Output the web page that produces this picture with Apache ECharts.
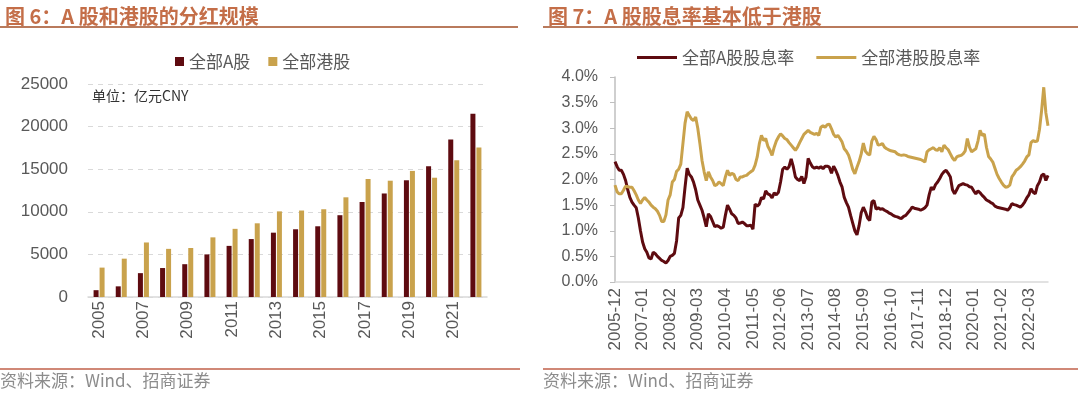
<!DOCTYPE html>
<html>
<head>
<meta charset="utf-8">
<script src="https://cdn.jsdelivr.net/npm/echarts@6/dist/echarts.min.js"></script>
<style>
html,body{margin:0;padding:0;background:#fff;}
#c{width:1080px;height:393px;}
</style>
</head>
<body>
<div id="c"></div>
<script>
// ---------- Figure 6: dividend scale (100 million CNY) ----------
const years = ['2005','2006','2007','2008','2009','2010','2011','2012','2013','2014','2015','2016','2017','2018','2019','2020','2021','2022'];
const divA  = [800,1250,2800,3400,3850,5000,6000,6800,7550,7950,8300,9600,11150,12150,13700,15350,18500,21500];
const divHK = [3450,4500,6400,5650,5750,7000,8000,8650,10050,10150,10300,11700,13850,13650,14800,14000,16050,17550];

// ---------- Figure 7: dividend yield (%) monthly from 2005-12 ----------
const startYear = 2005, startMonth = 12, monthCount = 205;
const months = [];
for (let k = 0; k < monthCount; k++) {
  const m0 = startMonth - 1 + k;
  const y = startYear + Math.floor(m0 / 12);
  const m = (m0 % 12) + 1;
  months.push(y + '-' + (m < 10 ? '0' + m : '' + m));
}
const yieldA = [
 2.35,2.25,2.18,2.18,2.10,1.98,1.80,1.65,1.56,1.50,
 1.45,1.25,1.00,0.78,0.65,0.58,0.47,0.45,0.58,0.55,
 0.50,0.46,0.42,0.40,0.37,0.42,0.50,0.52,0.56,0.80,
 1.25,1.30,1.45,1.85,2.22,2.10,2.05,1.95,1.80,1.60,
 1.50,1.40,1.25,1.08,1.33,1.28,1.18,1.08,1.10,1.08,
 1.05,1.07,1.30,1.50,1.42,1.33,1.30,1.25,1.14,1.15,
 1.17,1.14,1.10,1.10,1.11,1.03,1.52,1.48,1.52,1.65,
 1.62,1.78,1.72,1.70,1.64,1.74,1.70,1.75,1.95,2.20,
 2.24,2.20,2.25,2.40,2.25,2.05,2.00,1.98,2.06,1.92,
 2.05,2.41,2.32,2.25,2.22,2.24,2.22,2.25,2.21,2.26,
 2.26,2.24,2.12,2.26,2.18,2.08,1.95,1.85,1.65,1.55,
 1.46,1.30,1.15,1.00,0.92,1.10,1.35,1.46,1.37,1.25,
 1.20,1.56,1.59,1.42,1.45,1.42,1.43,1.40,1.38,1.35,
 1.33,1.30,1.28,1.27,1.25,1.24,1.28,1.30,1.35,1.40,
 1.46,1.44,1.43,1.42,1.40,1.42,1.45,1.50,1.70,1.85,
 1.80,1.90,1.95,2.02,2.10,2.15,2.18,2.12,2.05,1.80,
 1.72,1.80,1.88,1.90,1.92,1.90,1.89,1.86,1.85,1.78,
 1.72,1.78,1.74,1.69,1.65,1.60,1.58,1.55,1.53,1.48,
 1.46,1.45,1.44,1.43,1.42,1.40,1.45,1.53,1.51,1.50,
 1.48,1.46,1.50,1.56,1.64,1.70,1.82,1.75,1.72,1.88,
 1.95,2.08,2.11,1.98,2.08
];
const yieldHK = [
 1.89,1.76,1.72,1.72,1.79,1.87,1.86,1.85,1.85,1.78,
 1.70,1.60,1.53,1.60,1.65,1.60,1.56,1.50,1.46,1.43,
 1.38,1.30,1.18,1.18,1.31,1.60,1.70,1.95,2.00,2.16,
 2.20,2.30,2.70,3.10,3.32,3.25,3.18,3.15,3.22,3.00,
 2.70,2.37,2.15,1.98,2.15,2.05,1.98,1.88,1.90,1.95,
 1.92,1.88,2.05,2.18,2.08,2.12,2.10,2.00,1.98,2.05,
 2.05,2.07,2.08,2.12,2.15,2.18,2.28,2.44,2.70,2.86,
 2.76,2.80,2.65,2.57,2.47,2.63,2.75,2.83,2.89,2.85,
 2.80,2.78,2.72,2.67,2.62,2.57,2.63,2.72,2.80,2.88,
 2.92,2.96,2.92,2.90,2.88,2.90,2.86,3.02,3.05,3.02,
 3.07,3.08,2.99,2.88,2.83,2.86,2.80,2.73,2.60,2.55,
 2.48,2.35,2.20,2.11,2.24,2.35,2.50,2.71,2.55,2.50,
 2.48,2.75,2.84,2.78,2.67,2.68,2.70,2.63,2.60,2.58,
 2.56,2.55,2.54,2.50,2.48,2.47,2.48,2.47,2.45,2.44,
 2.43,2.42,2.41,2.40,2.39,2.37,2.34,2.54,2.58,2.60,
 2.62,2.58,2.57,2.62,2.54,2.67,2.62,2.58,2.50,2.42,
 2.37,2.44,2.46,2.47,2.50,2.56,2.80,2.63,2.54,2.57,
 2.60,2.75,2.96,2.86,2.89,2.63,2.45,2.40,2.34,2.22,
 2.10,2.02,1.95,1.89,1.85,1.86,1.89,2.05,2.11,2.18,
 2.21,2.25,2.30,2.36,2.44,2.48,2.72,2.76,2.74,2.75,
 2.98,3.35,3.80,3.30,3.05
];

const cA = '#5e0b10';
const cHK = '#c9a24c';
const txt = '#595959';
const titleColor = '#c46e48';
const ruleColor = '#b97a5c';
const srcRule = '#c0604a';

const chart = echarts.init(document.getElementById('c'), null, {renderer: 'canvas'});
chart.setOption({
  backgroundColor: '#fff',
  animation: false,
  title: [
    {text: '图 6：A 股和港股的分红规模', left: 0, top: 1,
     textStyle: {fontSize: 20, fontWeight: 'bold', color: titleColor, fontFamily: 'Noto Sans CJK SC'}},
    {text: '图 7：A 股股息率基本低于港股', left: 543, top: 1,
     textStyle: {fontSize: 20, fontWeight: 'bold', color: titleColor, fontFamily: 'Noto Sans CJK SC'}}
  ],
  graphic: [
    {type: 'line', shape: {x1: 0, y1: 27, x2: 518, y2: 27}, style: {stroke: ruleColor, lineWidth: 2}},
    {type: 'line', shape: {x1: 543, y1: 27, x2: 1078, y2: 27}, style: {stroke: ruleColor, lineWidth: 2}},
    {type: 'line', shape: {x1: 0, y1: 369, x2: 520, y2: 369}, style: {stroke: srcRule, lineWidth: 1.5}},
    {type: 'line', shape: {x1: 543, y1: 369, x2: 1078, y2: 369}, style: {stroke: srcRule, lineWidth: 1.5}},
    {type: 'text', left: 0, top: 372, style: {text: '资料来源：Wind、招商证券', fontSize: 17, fill: '#8c8c8c', fontFamily: 'Noto Sans CJK SC'}},
    {type: 'text', left: 543, top: 372, style: {text: '资料来源：Wind、招商证券', fontSize: 17, fill: '#8c8c8c', fontFamily: 'Noto Sans CJK SC'}},
    {type: 'text', left: 92, top: 89, style: {text: '单位：亿元CNY', fontSize: 14, fill: '#333', fontFamily: 'Noto Sans CJK SC'}}
  ],
  legend: [
    {data: ['全部A股', '全部港股'], left: 170, top: 48, icon: 'rect', itemWidth: 9, itemHeight: 9, itemGap: 18,
     textStyle: {fontSize: 17, color: txt, fontFamily: 'Noto Sans CJK SC'}},
    {data: ['全部A股股息率', '全部港股股息率'], left: 632, top: 44, icon: 'rect', itemWidth: 40, itemHeight: 3, itemGap: 22,
     textStyle: {fontSize: 17, color: txt, fontFamily: 'Noto Sans CJK SC'}}
  ],
  grid: [
    {left: 88, right: 593, top: 84, bottom: 96, containLabel: false},
    {left: 615, right: 32, top: 77, bottom: 111, containLabel: false}
  ],
  xAxis: [
    {type: 'category', gridIndex: 0, data: years, boundaryGap: true,
     axisLine: {lineStyle: {color: '#d9d9d9', width: 1.5}}, axisTick: {show: false},
     axisLabel: {interval: 1, rotate: 90, fontSize: 17, color: txt, margin: 4, fontFamily: 'Liberation Sans'}},
    {type: 'category', gridIndex: 1, data: months, boundaryGap: false,
     axisLine: {lineStyle: {color: '#d9d9d9', width: 1.5}}, axisTick: {show: false},
     axisLabel: {interval: 12, rotate: 90, fontSize: 17, color: txt, margin: 6, fontFamily: 'Liberation Sans'}}
  ],
  yAxis: [
    {type: 'value', gridIndex: 0, min: 0, max: 25000, interval: 5000,
     axisLine: {show: false}, axisTick: {show: false},
     splitLine: {lineStyle: {color: '#d9d9d9', type: [5, 5]}},
     axisLabel: {fontSize: 17, color: txt, margin: 20, fontFamily: 'Liberation Sans',
       formatter: v => String(v)}},
    {type: 'value', gridIndex: 1, min: 0, max: 4, interval: 0.5,
     axisLine: {show: true, lineStyle: {color: '#bfbfbf', width: 1.5}},
     axisTick: {show: true, inside: false, length: 5, lineStyle: {color: '#bfbfbf'}},
     splitLine: {show: false},
     axisLabel: {fontSize: 16, color: txt, margin: 17, fontFamily: 'Liberation Sans',
       formatter: v => v.toFixed(1) + '%'}}
  ],
  series: [
    {name: '全部A股', type: 'bar', xAxisIndex: 0, yAxisIndex: 0, data: divA, barWidth: 5, barGap: '20%', itemStyle: {color: cA}},
    {name: '全部港股', type: 'bar', xAxisIndex: 0, yAxisIndex: 0, data: divHK, barWidth: 5, barGap: '20%', itemStyle: {color: cHK}},
    {name: '全部A股股息率', type: 'line', xAxisIndex: 1, yAxisIndex: 1, data: yieldA, showSymbol: false, symbol: 'none',
     lineStyle: {color: cA, width: 3}, itemStyle: {color: cA}},
    {name: '全部港股股息率', type: 'line', xAxisIndex: 1, yAxisIndex: 1, data: yieldHK, showSymbol: false, symbol: 'none',
     lineStyle: {color: cHK, width: 3}, itemStyle: {color: cHK}}
  ]
});
</script>
</body>
</html>
